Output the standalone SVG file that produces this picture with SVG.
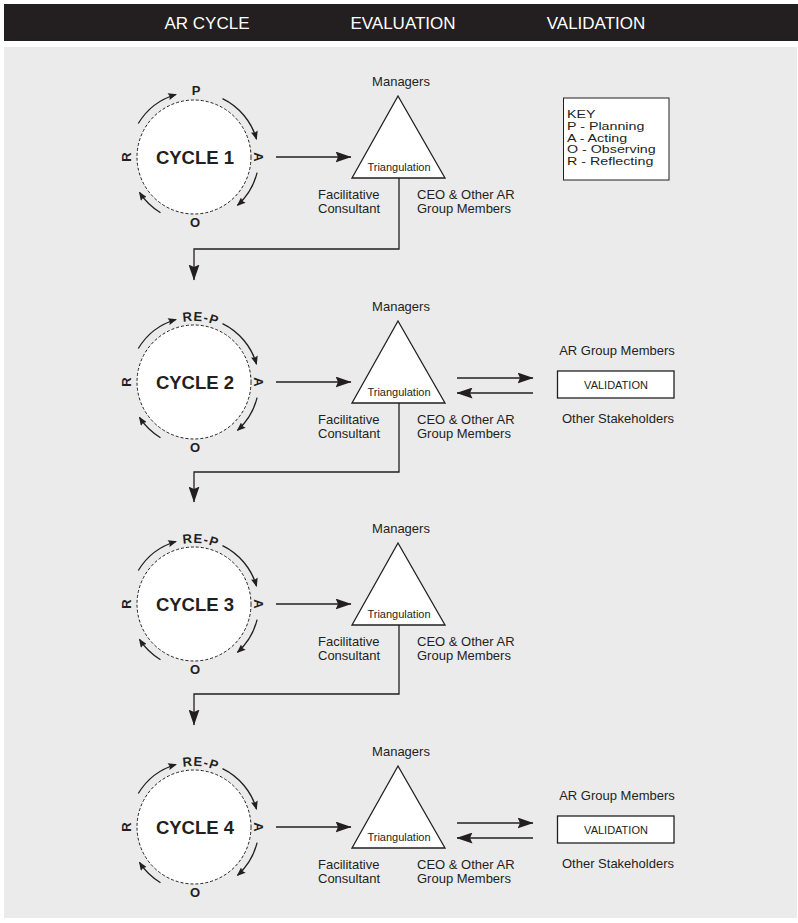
<svg xmlns="http://www.w3.org/2000/svg" xmlns:xlink="http://www.w3.org/1999/xlink" width="798" height="923" viewBox="0 0 798 923">
<style>
text{font-family:"Liberation Sans",Arial,Helvetica,sans-serif;fill:#231f20}
.hdr{font-size:17px;fill:#ffffff;text-anchor:middle}
.lbl{font-size:13px}
.mid{text-anchor:middle}
.cyc{font-size:18.5px;font-weight:bold;text-anchor:middle}
.let{font-size:13px;font-weight:bold;text-anchor:middle}
.tri{font-size:11px;text-anchor:middle}
.key{font-size:11.5px}
.val{font-size:11px;text-anchor:middle}
.ring{fill:#ffffff;stroke:#231f20;stroke-width:1;stroke-dasharray:3 2}
.shape{fill:#ffffff;stroke:#231f20;stroke-width:1.3}
.conn{fill:none;stroke:#231f20;stroke-width:1.3}
</style>
<defs>
<marker id="ah" viewBox="0 0 10 8" refX="9" refY="4" markerWidth="9" markerHeight="7" markerUnits="userSpaceOnUse" orient="auto">
<path d="M0,0 L10,4 L0,8 L1.5,4 z" fill="#231f20"/>
</marker>
<marker id="AH" viewBox="0 0 16 11" refX="15.5" refY="5.5" markerWidth="16" markerHeight="11" markerUnits="userSpaceOnUse" orient="auto">
<path d="M0,0 L16,5.5 L0,11 L2.5,5.5 z" fill="#231f20"/>
</marker>
<g id="arcs" fill="none" stroke="#231f20" stroke-width="1.3" marker-end="url(#ah)">
<path d="M-55.7,-33.5 A65,65 0 0 1 -17.9,-62.5"/>
<path d="M28.5,-58.4 A65,65 0 0 1 62.5,-17.9"/>
<path d="M63.1,15.7 A65,65 0 0 1 43.5,48.3"/>
<path d="M-33.5,55.7 A65,65 0 0 1 -54.5,35.4"/>
</g>
<path id="rep" d="M-34.1,-50.6 A61,61 0 0 1 43.9,-42.4" fill="none"/>
</defs>

<rect x="4" y="4" width="794" height="37" fill="#231f20"/>
<rect x="4" y="47" width="793" height="871" fill="#ebebec"/>
<g id="header">
<text class="hdr" x="207" y="28.5">AR CYCLE</text>
<text class="hdr" x="403" y="28.5">EVALUATION</text>
<text class="hdr" x="596" y="28.5">VALIDATION</text>
</g>

<g id="key">
<rect x="563.5" y="98" width="105.5" height="82" fill="#ffffff" stroke="#231f20" stroke-width="1"/>
<g transform="scale(1.24,1)">
<text class="key" x="457.3" y="118">KEY</text>
<text class="key" x="457.3" y="129.8">P - Planning</text>
<text class="key" x="457.3" y="141.6">A - Acting</text>
<text class="key" x="457.3" y="153.4">O - Observing</text>
<text class="key" x="457.3" y="165.2">R - Reflecting</text>
</g>
</g>

<!-- Cycle 1 -->
<g id="cycle1">
<circle class="ring" cx="194" cy="157" r="57"/>
<use xlink:href="#arcs" href="#arcs" x="194" y="157"/>
<text class="cyc" x="195" y="164">CYCLE 1</text>
<text class="let" x="196" y="95">P</text>
<text class="let" transform="translate(254,157) rotate(90)">A</text>
<text class="let" x="195" y="227">O</text>
<text class="let" transform="translate(131,157) rotate(-90)">R</text>
</g>
<g id="triangle1">
<polygon class="shape" points="398,96 352,178 445,178"/>
<text class="tri" x="399" y="171">Triangulation</text>
<text class="lbl mid" x="401" y="86">Managers</text>
<text class="lbl" x="318" y="199">Facilitative</text>
<text class="lbl" x="318" y="213">Consultant</text>
<text class="lbl" x="417" y="199">CEO &amp; Other AR</text>
<text class="lbl" x="417" y="213">Group Members</text>
</g>

<!-- Cycle 2 -->
<g id="cycle2">
<circle class="ring" cx="194" cy="382" r="57"/>
<use xlink:href="#arcs" href="#arcs" x="194" y="382"/>
<text class="cyc" x="195" y="389">CYCLE 2</text>
<text class="let" transform="translate(194,382)" font-size="14" letter-spacing="1"><textPath xlink:href="#rep" href="#rep" startOffset="50%">RE-P</textPath></text>
<text class="let" transform="translate(254,382) rotate(90)">A</text>
<text class="let" x="195" y="452">O</text>
<text class="let" transform="translate(131,382) rotate(-90)">R</text>
</g>
<g id="triangle2">
<polygon class="shape" points="398,321 352,403 445,403"/>
<text class="tri" x="399" y="396">Triangulation</text>
<text class="lbl mid" x="401" y="311">Managers</text>
<text class="lbl" x="318" y="424">Facilitative</text>
<text class="lbl" x="318" y="438">Consultant</text>
<text class="lbl" x="417" y="424">CEO &amp; Other AR</text>
<text class="lbl" x="417" y="438">Group Members</text>
</g>
<g id="validation2">
<text class="lbl mid" x="617" y="355">AR Group Members</text>
<rect class="shape" x="557.5" y="371" width="116.5" height="27"/>
<text class="val" x="616" y="389">VALIDATION</text>
<text class="lbl mid" x="618" y="423">Other Stakeholders</text>
</g>

<!-- Cycle 3 -->
<g id="cycle3">
<circle class="ring" cx="194" cy="604" r="57"/>
<use xlink:href="#arcs" href="#arcs" x="194" y="604"/>
<text class="cyc" x="195" y="611">CYCLE 3</text>
<text class="let" transform="translate(194,604)" font-size="14" letter-spacing="1"><textPath xlink:href="#rep" href="#rep" startOffset="50%">RE-P</textPath></text>
<text class="let" transform="translate(254,604) rotate(90)">A</text>
<text class="let" x="195" y="674">O</text>
<text class="let" transform="translate(131,604) rotate(-90)">R</text>
</g>
<g id="triangle3">
<polygon class="shape" points="398,543 352,625 445,625"/>
<text class="tri" x="399" y="618">Triangulation</text>
<text class="lbl mid" x="401" y="533">Managers</text>
<text class="lbl" x="318" y="646">Facilitative</text>
<text class="lbl" x="318" y="660">Consultant</text>
<text class="lbl" x="417" y="646">CEO &amp; Other AR</text>
<text class="lbl" x="417" y="660">Group Members</text>
</g>

<!-- Cycle 4 -->
<g id="cycle4">
<circle class="ring" cx="194" cy="827" r="57"/>
<use xlink:href="#arcs" href="#arcs" x="194" y="827"/>
<text class="cyc" x="195" y="834">CYCLE 4</text>
<text class="let" transform="translate(194,827)" font-size="14" letter-spacing="1"><textPath xlink:href="#rep" href="#rep" startOffset="50%">RE-P</textPath></text>
<text class="let" transform="translate(254,827) rotate(90)">A</text>
<text class="let" x="195" y="897">O</text>
<text class="let" transform="translate(131,827) rotate(-90)">R</text>
</g>
<g id="triangle4">
<polygon class="shape" points="398,766 352,848 445,848"/>
<text class="tri" x="399" y="841">Triangulation</text>
<text class="lbl mid" x="401" y="756">Managers</text>
<text class="lbl" x="318" y="869">Facilitative</text>
<text class="lbl" x="318" y="883">Consultant</text>
<text class="lbl" x="417" y="869">CEO &amp; Other AR</text>
<text class="lbl" x="417" y="883">Group Members</text>
</g>
<g id="validation4">
<text class="lbl mid" x="617" y="800">AR Group Members</text>
<rect class="shape" x="557.5" y="816" width="116.5" height="27"/>
<text class="val" x="616" y="834">VALIDATION</text>
<text class="lbl mid" x="618" y="868">Other Stakeholders</text>
</g>

<g id="connectors" class="conn" marker-end="url(#AH)">
<path d="M276,157 H351"/>
<path d="M399,178 V249 H194 V280"/>
<path d="M276,382 H351"/>
<path d="M399,403 V472 H194 V502"/>
<path d="M457,378 H533"/>
<path d="M533,393 H457"/>
<path d="M276,604 H351"/>
<path d="M399,625 V694 H194 V725"/>
<path d="M276,827 H351"/>
<path d="M457,823 H533"/>
<path d="M533,838 H457"/>
</g>
</svg>
